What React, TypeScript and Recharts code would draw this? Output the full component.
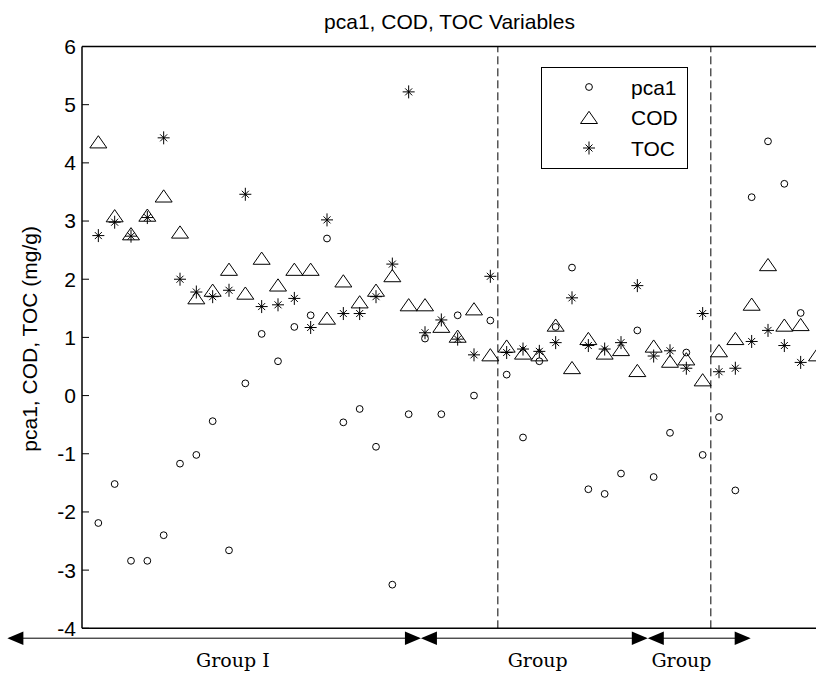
import {
  ScatterChart,
  Scatter,
  XAxis,
  YAxis,
  ReferenceLine,
  ReferenceDot,
  Legend,
} from "recharts";

// sample number along the x axis
const sampleNo = [
  1, 2, 3, 4, 5, 6, 7, 8, 9, 10, 11, 12, 13, 14, 15, 16, 17, 18, 19, 20, 21, 22,
  23, 24, 25, 26, 27, 28, 29, 30, 31, 32, 33, 34, 35, 36, 37, 38, 39, 40, 41, 42,
  43, 44, 45,
];

const pca1 = [
  -2.19, -1.52, -2.84, -2.84, -2.4, -1.17, -1.02, -0.44, -2.66, 0.21, 1.06, 0.59,
  1.18, 1.38, 2.7, -0.46, -0.23, -0.88, -3.25, -0.32, 0.98, -0.32, 1.38, 0.0,
  1.29, 0.36, -0.72, 0.59, 1.18, 2.2, -1.61, -1.69, -1.34, 1.12, -1.4, -0.64,
  0.74, -1.02, -0.37, -1.63, 3.41, 4.37, 3.64, 1.42, null,
];

const cod = [
  4.36, 3.09, 2.78, 3.1, 3.43, 2.81, 1.68, 1.81, 2.17, 1.76, 2.36, 1.9, 2.17,
  2.17, 1.33, 1.97, 1.61, 1.81, 2.06, 1.56, 1.56, 1.19, 1.02, 1.49, 0.7, 0.85,
  0.73, 0.7, 1.21, 0.48, 0.98, 0.73, 0.79, 0.43, 0.85, 0.59, 0.63, 0.27, 0.77,
  0.98, 1.57, 2.25, 1.21, 1.22, 0.7,
];

const toc = [
  2.75, 2.98, 2.74, 3.06, 4.43, 2.0, 1.78, 1.7, 1.81, 3.46, 1.53, 1.56, 1.67,
  1.17, 3.02, 1.41, 1.41, 1.7, 2.26, 5.22, 1.08, 1.3, 0.97, 0.7, 2.05, 0.74,
  0.8, 0.76, 0.91, 1.68, 0.86, 0.8, 0.91, 1.89, 0.68, 0.77, 0.47, 1.41, 0.41,
  0.47, 0.93, 1.12, 0.86, 0.57, null,
];

const xTicks = [0, 5, 10, 15, 20, 25, 30, 35, 40, 45];
const yTicks = [-4, -3, -2, -1, 0, 1, 2, 3, 4, 5, 6];

// group boundaries (dashed lines) and the arrows under the axis
const groupBreaks = [25.46, 38.5];
const groupSpans = [
  [-4.57, 20.75],
  [20.75, 34.64],
  [34.64, 40.94],
];
const groupNames = ["Group I", "Group", "Group"];
const groupNameX = [9.24, 27.9, 36.7];

const toPoints = (vals: (number | null)[]) =>
  sampleNo
    .map((x, i) => ({ x, y: vals[i] }))
    .filter((p) => p.y !== null && p.y !== undefined);

const SANS = "'Liberation Sans', Arial, Helvetica, sans-serif";
const SERIF = "'DejaVu Serif', 'Liberation Serif', serif";

function CircleMark({ cx, cy }: any) {
  if (cx == null || cy == null) return null;
  return <circle cx={cx} cy={cy} r={3.4} fill="none" stroke="#000" strokeWidth={1} />;
}

function TriangleMark({ cx, cy }: any) {
  if (cx == null || cy == null) return null;
  return (
    <polygon
      points={`${cx},${cy - 6.2} ${cx - 8.5},${cy + 6} ${cx + 8.5},${cy + 6}`}
      fill="none"
      stroke="#000"
      strokeWidth={1}
    />
  );
}

function StarMark({ cx, cy }: any) {
  if (cx == null || cy == null) return null;
  return (
    <g stroke="#000" strokeWidth={1}>
      <line x1={cx - 6} y1={cy} x2={cx + 6} y2={cy} />
      <line x1={cx} y1={cy - 6.5} x2={cx} y2={cy + 6.5} />
      <line x1={cx - 3.5} y1={cy - 3.5} x2={cx + 3.5} y2={cy + 3.5} />
      <line x1={cx - 3.5} y1={cy + 3.5} x2={cx + 3.5} y2={cy - 3.5} />
    </g>
  );
}

function ArrowShape(props: any) {
  const { x1, y1, x2 } = props;
  if (x1 == null) return null;
  const y = y1;
  const len = 16;
  const half = 6.7;
  return (
    <g>
      <line x1={x1 + 2} y1={y} x2={x2 - 2} y2={y} stroke="#000" strokeWidth={1} />
      <polygon points={`${x1},${y} ${x1 + len},${y - half} ${x1 + len},${y + half}`} fill="#000" />
      <polygon points={`${x2},${y} ${x2 - len},${y - half} ${x2 - len},${y + half}`} fill="#000" />
    </g>
  );
}

function GroupText(text: string) {
  return (props: any) => (
    <text
      x={props.cx}
      y={props.cy}
      textAnchor="middle"
      fontFamily={SERIF}
      fontSize={19}
      fill="#000"
    >
      {text}
    </text>
  );
}

function TitleLabel(props: any) {
  const vb = props.viewBox || { x: 82, width: 735 };
  return (
    <text x={vb.x + vb.width / 2} y={29} textAnchor="middle" fontFamily={SANS} fontSize={21} fill="#000">
      pca1, COD, TOC Variables
    </text>
  );
}

function YLabel(props: any) {
  const vb = props.viewBox || { y: 46.5, height: 582 };
  const cy = vb.y + vb.height / 2 + 1.5;
  return (
    <text
      x={37}
      y={cy}
      transform={`rotate(-90, 37, ${cy})`}
      textAnchor="middle"
      fontFamily={SANS}
      fontSize={21}
      fill="#000"
    >
      pca1, COD, TOC (mg/g)
    </text>
  );
}

const legendRows = [
  { name: "pca1", Mark: CircleMark },
  { name: "COD", Mark: TriangleMark },
  { name: "TOC", Mark: StarMark },
];

function LegendBox() {
  return (
    <div
      style={{
        width: 147,
        height: 102,
        border: "1px solid #000",
        background: "#fff",
        boxSizing: "border-box",
      }}
    >
      <svg width={145} height={100} style={{ display: "block" }}>
        {legendRows.map((r, i) => (
          <g key={r.name}>
            <r.Mark cx={47} cy={19 + i * 30.5} />
            <text
              x={89}
              y={19 + i * 30.5}
              dominantBaseline="central"
              fontFamily={SANS}
              fontSize={21}
              fill="#000"
            >
              {r.name}
            </text>
          </g>
        ))}
      </svg>
    </div>
  );
}

export default function App() {
  const axisStroke = { stroke: "#000", strokeWidth: 1.5 };
  return (
    <div
      style={{
        position: "fixed",
        left: 0,
        top: 0,
        width: 816,
        height: 673,
        overflow: "hidden",
        background: "#fff",
      }}
    >
      <ScatterChart
        width={830}
        height={673}
        margin={{ top: 45.5, right: 12, bottom: 43.7, left: 0 }}
      >
        <XAxis
          xAxisId={0}
          type="number"
          dataKey="x"
          domain={[0, 45]}
          ticks={xTicks}
          allowDataOverflow
          height={1}
          tick={false}
          tickSize={-7}
          axisLine={axisStroke}
          tickLine={{ stroke: "#000" }}
        />
        <XAxis
          xAxisId="top"
          orientation="top"
          type="number"
          dataKey="x"
          domain={[0, 45]}
          ticks={xTicks}
          allowDataOverflow
          height={1}
          tick={false}
          tickSize={-7}
          axisLine={axisStroke}
          tickLine={{ stroke: "#000" }}
          label={<TitleLabel />}
        />
        <YAxis
          yAxisId={0}
          type="number"
          dataKey="y"
          domain={[-4, 6]}
          ticks={yTicks}
          allowDataOverflow
          width={82}
          tickSize={-7}
          tickMargin={13}
          tick={{ fontSize: 21, fill: "#000", fontFamily: SANS }}
          axisLine={axisStroke}
          tickLine={{ stroke: "#000" }}
          label={<YLabel />}
        />
        <YAxis
          yAxisId="right"
          orientation="right"
          type="number"
          dataKey="y"
          domain={[-4, 6]}
          ticks={yTicks}
          allowDataOverflow
          width={1}
          tick={false}
          tickSize={-7}
          axisLine={axisStroke}
          tickLine={{ stroke: "#000" }}
        />
        <Scatter name="pca1" data={toPoints(pca1)} shape={<CircleMark />} isAnimationActive={false} />
        <Scatter name="COD" data={toPoints(cod)} shape={<TriangleMark />} isAnimationActive={false} />
        <Scatter name="TOC" data={toPoints(toc)} shape={<StarMark />} isAnimationActive={false} />
        {groupBreaks.map((gx) => (
          <ReferenceLine key={gx} x={gx} stroke="#000" strokeWidth={1} strokeDasharray="8 4" />
        ))}
        {groupSpans.map(([a, b]) => (
          <ReferenceLine
            key={`arrow-${a}`}
            segment={[
              { x: a, y: -4.17 },
              { x: b, y: -4.17 },
            ]}
            ifOverflow="visible"
            shape={ArrowShape}
          />
        ))}
        {groupNames.map((name, i) => (
          <ReferenceDot
            key={`gl-${i}`}
            x={groupNameX[i]}
            y={-4.67}
            ifOverflow="visible"
            shape={GroupText(name)}
          />
        ))}
        <Legend
          layout="vertical"
          align="center"
          verticalAlign="middle"
          content={<LegendBox />}
          wrapperStyle={{ left: 541, top: 67, width: 147, height: 102 }}
        />
      </ScatterChart>
    </div>
  );
}
